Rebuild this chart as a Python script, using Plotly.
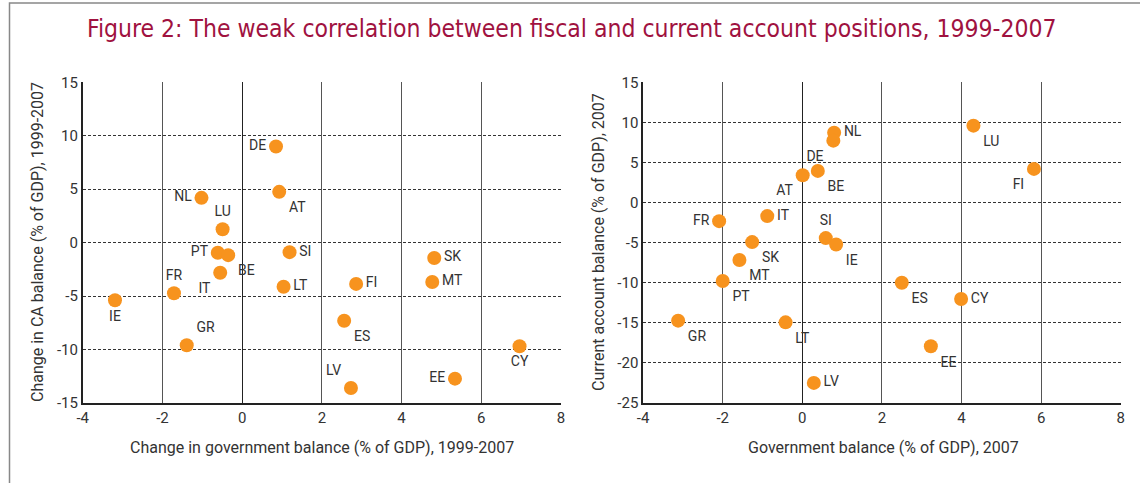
import plotly.graph_objects as go

# Left panel: change 1999-2007
left_countries = ["DE", "AT", "NL", "LU", "PT", "BE", "IT", "SI", "LT", "FR",
                  "IE", "GR", "ES", "FI", "LV", "SK", "MT", "EE", "CY"]
left_gov = [0.85, 0.93, -1.02, -0.49, -0.61, -0.35, -0.55, 1.19, 1.04, -1.71,
            -3.19, -1.39, 2.56, 2.86, 2.73, 4.82, 4.77, 5.34, 6.96]
left_ca = [9.0, 4.75, 4.19, 1.26, -0.95, -1.17, -2.81, -0.89, -4.12, -4.73,
           -5.39, -9.6, -7.3, -3.86, -13.6, -1.43, -3.68, -12.72, -9.69]
left_pos = ["middle left", "bottom right", "middle left", "top center", "middle left",
            "bottom right", "bottom left", "middle right", "middle right", "top center",
            "bottom center", "top right", "bottom right", "middle right", "top left",
            "middle right", "middle right", "middle left", "bottom center"]

# Right panel: levels in 2007
right_countries = ["NL", "DE", "BE", "AT", "FR", "IT", "SK", "SI", "IE", "MT",
                   "PT", "GR", "LT", "LV", "LU", "FI", "ES", "CY", "EE"]
right_gov = [0.80, 0.78, 0.39, 0.01, -2.09, -0.88, -1.26, 0.59, 0.85, -1.58,
             -2.0, -3.12, -0.42, 0.29, 4.30, 5.82, 2.50, 3.99, 3.23]
right_ca = [8.72, 7.72, 3.95, 3.41, -2.32, -1.69, -4.93, -4.43, -5.23, -7.17,
            -9.79, -14.73, -14.94, -22.49, 9.59, 4.2, -10.0, -12.03, -17.93]
right_pos = ["middle right", "bottom left", "bottom right", "bottom left", "middle left",
             "middle right", "bottom right", "top center", "bottom right", "bottom right",
             "bottom right", "bottom right", "bottom right", "middle right", "bottom right",
             "bottom left", "bottom right", "middle right", "bottom right"]

x_ticks = [-4, -2, 0, 2, 4, 6, 8]
left_y_ticks = [-15, -10, -5, 0, 5, 10, 15]
right_y_ticks = [-25, -20, -15, -10, -5, 0, 5, 10, 15]

TITLE = "Figure 2: The weak correlation between fiscal and current account positions, 1999-2007"
ORANGE = "#F7931E"
TEXT = "#333333"
FONT = "Roboto"
TITLE_FONT = "DejaVu Sans Condensed, Roboto Condensed, Liberation Sans Narrow, Arial Narrow, sans-serif"

W, H = 1140, 483


def px_x(p):
    return p / W


def px_y(p):
    return 1 - p / H


fig = go.Figure()

fig.add_trace(go.Scatter(
    x=left_gov, y=left_ca, mode="markers+text", text=left_countries,
    textposition=left_pos, marker=dict(size=14, color=ORANGE),
    textfont=dict(size=14, color=TEXT, family=FONT),
    xaxis="x", yaxis="y", showlegend=False, cliponaxis=False,
))
fig.add_trace(go.Scatter(
    x=right_gov, y=right_ca, mode="markers+text", text=right_countries,
    textposition=right_pos, marker=dict(size=14, color=ORANGE),
    textfont=dict(size=14, color=TEXT, family=FONT),
    xaxis="x2", yaxis="y2", showlegend=False, cliponaxis=False,
))


def ticktext(vals):
    # plain hyphen minus, as in the original
    return [str(v) for v in vals]


y_dom = [px_y(403), px_y(82.3)]
xaxis_style = dict(
    range=[-4, 8], tickvals=x_ticks, ticktext=ticktext(x_ticks),
    showgrid=True, gridcolor="#555555", gridwidth=1,
    zeroline=True, zerolinecolor="#222222", zerolinewidth=1,
    showline=True, linecolor="#222222", linewidth=1.5, ticks="",
    tickfont=dict(size=15, color=TEXT, family=FONT), automargin=False,
)
yaxis_style = dict(
    showgrid=True, gridcolor="#333333", gridwidth=1, griddash="3px,2px",
    zeroline=False, showline=True, linecolor="#222222", linewidth=1.5, ticks="",
    tickfont=dict(size=15, color=TEXT, family=FONT), domain=y_dom, automargin=False,
)

axis_title_font = dict(size=16, color=TEXT, family=FONT)

fig.update_layout(
    width=W, height=H,
    margin=dict(l=0, r=0, t=0, b=0, autoexpand=False),
    paper_bgcolor="white", plot_bgcolor="white",
    xaxis=dict(xaxis_style, domain=[px_x(82.7), px_x(561)], anchor="y"),
    yaxis=dict(yaxis_style, range=[-15, 15], tickvals=left_y_ticks,
               ticktext=ticktext(left_y_ticks), anchor="x"),
    xaxis2=dict(xaxis_style, domain=[px_x(643.1), px_x(1120.7)], anchor="y2"),
    yaxis2=dict(yaxis_style, range=[-25, 15], tickvals=right_y_ticks,
                ticktext=ticktext(right_y_ticks), anchor="x2"),
    # outer frame, open to the right and bottom as in the cropped original
    shapes=[dict(type="rect", xref="paper", yref="paper",
                 x0=px_x(9.5), x1=1.05, y0=-0.05, y1=px_y(3),
                 line=dict(color="#888888", width=1.5))],
    annotations=[
        dict(text=TITLE, xref="paper", yref="paper", x=px_x(572), y=px_y(28),
             showarrow=False, xanchor="center", yanchor="middle",
             font=dict(size=24.5, color="#A0123F", family=TITLE_FONT)),
        dict(text="Change in government balance (% of GDP), 1999-2007",
             xref="paper", yref="paper", x=px_x(322), y=px_y(447),
             xanchor="center", yanchor="middle",
             showarrow=False, font=axis_title_font),
        dict(text="Government balance (% of GDP), 2007",
             xref="paper", yref="paper", x=px_x(883), y=px_y(447),
             xanchor="center", yanchor="middle",
             showarrow=False, font=axis_title_font),
        dict(text="Change in CA balance (% of GDP), 1999-2007",
             xref="paper", yref="paper", x=px_x(37), y=px_y(242), textangle=-90,
             xanchor="center", yanchor="middle",
             showarrow=False, font=axis_title_font),
        dict(text="Current account balance (% of GDP), 2007",
             xref="paper", yref="paper", x=px_x(598), y=px_y(242), textangle=-90,
             xanchor="center", yanchor="middle",
             showarrow=False, font=axis_title_font),
    ],
)

fig.write_html("out.html", config={"displayModeBar": False},
               post_script="document.body.style.margin = '0px';")
